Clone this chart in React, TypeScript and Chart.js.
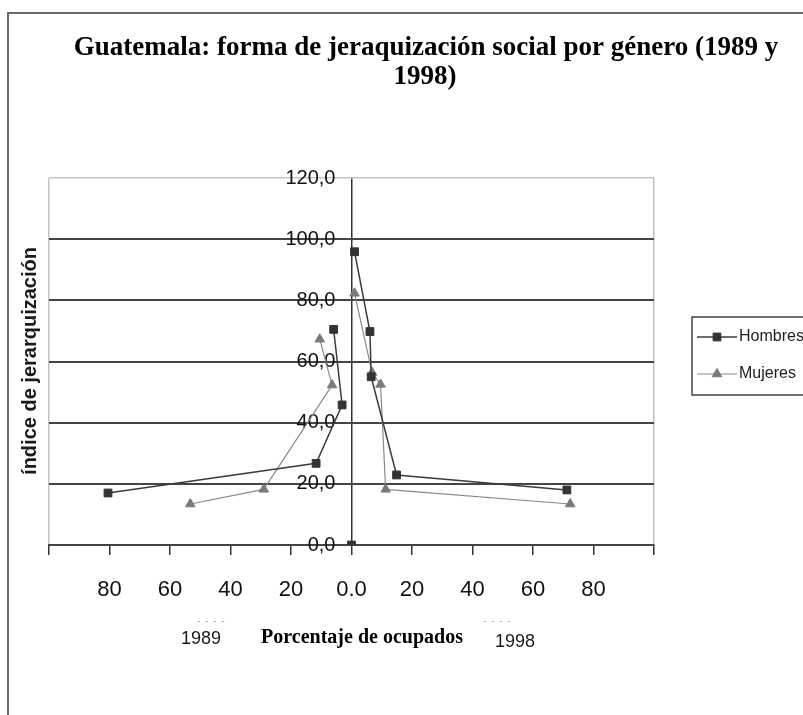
import React, { useEffect, useRef } from 'react';
import { Chart, registerables } from 'chart.js';
import { drawPoint } from 'chart.js/helpers';

Chart.register(...registerables);

// ---- text ----
const TITLE_LINES = ['Guatemala: forma de jeraquización social por género (1989 y', '1998)'];
const Y_TITLE = 'índice de jerarquización';
const X_TITLE = 'Porcentaje de ocupados';
const YEAR_LEFT = '1989';
const YEAR_RIGHT = '1998';
const SERIES_NAMES = ['Hombres', 'Mujeres'];

// ---- axes ----
const X_MIN = -100;
const X_MAX = 100;
const X_STEP = 20;
const Y_MIN = 0;
const Y_MAX = 120;
const Y_STEP = 20;
// the vertical axis crosses at x = 0; its labels sit just left of it
const Y_CROSS = 0;
const Y_LABEL_AT = -5.3;

// ---- data (percentage of employed, hierarchy index) ----
const hombres1989Pct = [80.5, 11.7, 3.1, 5.9];
const hombres1989Idx = [17.0, 26.7, 45.8, 70.5];
const hombresOriginPct = [0];
const hombresOriginIdx = [0];
const hombres1998Pct = [1.0, 6.1, 6.5, 14.9, 71.2];
const hombres1998Idx = [95.9, 69.8, 55.0, 22.9, 18.0];

const mujeres1989Pct = [53.3, 29.0, 6.4, 10.5];
const mujeres1989Idx = [13.4, 18.2, 52.3, 67.3];
const mujeres1998Pct = [1.0, 6.8, 9.6, 11.3, 72.3];
const mujeres1998Idx = [82.3, 56.4, 52.5, 18.2, 13.4];

type Pt = { x: number; y: number | null };

function buildSeries(
  p89: number[], i89: number[], p98: number[], i98: number[],
  pOrig: number[] = [], iOrig: number[] = []
): Pt[] {
  const pts: Pt[] = p89.map((p, k) => ({ x: -p, y: i89[k] }));
  pts.push({ x: 0, y: null });
  if (pOrig.length) {
    pOrig.forEach((p, k) => pts.push({ x: p, y: iOrig[k] }));
    pts.push({ x: 0, y: null });
  }
  p98.forEach((p, k) => pts.push({ x: p, y: i98[k] }));
  return pts;
}

const SANS = "'Liberation Sans', Arial, sans-serif";
const SERIF = "'Liberation Serif', 'Times New Roman', serif";

const decorPlugin = {
  id: 'decor',
  beforeDraw(chart: any) {
    const { ctx, width, height } = chart;
    ctx.save();
    ctx.fillStyle = '#ffffff';
    ctx.fillRect(0, 0, width, height);
    ctx.strokeStyle = '#6a6a6a';
    ctx.lineWidth = 2;
    ctx.beginPath();
    ctx.moveTo(8, height + 2);
    ctx.lineTo(8, 13);
    ctx.lineTo(width + 2, 13);
    ctx.stroke();
    ctx.restore();
  },
  afterDraw(chart: any) {
    const { ctx } = chart;
    ctx.save();
    // title
    ctx.fillStyle = '#000';
    ctx.font = `bold 27px ${SERIF}`;
    ctx.textAlign = 'center';
    ctx.textBaseline = 'middle';
    ctx.fillText(TITLE_LINES[0], 426, 48);
    ctx.fillText(TITLE_LINES[1], 425, 77);

    // y title
    ctx.save();
    ctx.translate(30, 361);
    ctx.rotate(-Math.PI / 2);
    ctx.font = `bold 20px ${SANS}`;
    ctx.fillStyle = '#1a1a1a';
    ctx.fillText(Y_TITLE, 0, 0);
    ctx.restore();

    // x title + years
    ctx.font = `bold 20px ${SERIF}`;
    ctx.fillStyle = '#000';
    ctx.fillText(X_TITLE, 362, 638);
    ctx.font = `18px ${SANS}`;
    ctx.fillStyle = '#1a1a1a';
    ctx.fillText(YEAR_LEFT, 201, 639);
    ctx.fillText(YEAR_RIGHT, 515, 642);
    ctx.font = `9px ${SANS}`;
    ctx.fillStyle = '#888';
    ctx.fillText('-  -  -  -', 211, 622);
    ctx.fillText('-  -  -  -', 497, 622);

    // legend
    ctx.strokeStyle = '#444';
    ctx.lineWidth = 1.5;
    ctx.strokeRect(692, 317, 120, 78);
    const rows = [337, 374];
    chart.data.datasets.forEach((ds: any, i: number) => {
      const y = rows[i];
      ctx.strokeStyle = ds.borderColor;
      ctx.lineWidth = ds.borderWidth;
      ctx.beginPath();
      ctx.moveTo(697, y);
      ctx.lineTo(737, y);
      ctx.stroke();
      ctx.fillStyle = ds.pointBackgroundColor;
      ctx.strokeStyle = ds.pointBorderColor;
      ctx.lineWidth = 1;
      drawPoint(ctx, { pointStyle: ds.pointStyle, radius: ds.pointRadius, rotation: 0, borderWidth: 1 }, 717, y);
      ctx.fillStyle = '#222';
      ctx.font = `16px ${SANS}`;
      ctx.textAlign = 'left';
      ctx.textBaseline = 'middle';
      ctx.fillText(ds.label, 739, y);
    });
    ctx.restore();
  },
};

export default function App() {
  const ref = useRef<HTMLCanvasElement>(null);

  useEffect(() => {
    if (!ref.current) return;
    const chart = new Chart(ref.current, {
      type: 'line',
      data: {
        datasets: [
          {
            label: SERIES_NAMES[0],
            data: buildSeries(hombres1989Pct, hombres1989Idx, hombres1998Pct, hombres1998Idx, hombresOriginPct, hombresOriginIdx),
            borderColor: '#3c3c3c',
            borderWidth: 1.5,
            pointStyle: 'rect',
            pointRadius: 5.5,
            pointBackgroundColor: '#333333',
            pointBorderColor: '#333333',
            pointBorderWidth: 1,
            tension: 0,
            spanGaps: false,
          },
          {
            label: SERIES_NAMES[1],
            data: buildSeries(mujeres1989Pct, mujeres1989Idx, mujeres1998Pct, mujeres1998Idx),
            borderColor: '#8a8a8a',
            borderWidth: 1.2,
            pointStyle: 'triangle',
            pointRadius: 5.5,
            pointBackgroundColor: '#7a7a7a',
            pointBorderColor: '#7a7a7a',
            pointBorderWidth: 1,
            tension: 0,
            spanGaps: false,
          },
        ] as any,
      },
      options: {
        animation: false,
        responsive: false,
        devicePixelRatio: 1,
        layout: { padding: { left: 49, right: 149, top: 178, bottom: 110 } },
        plugins: {
          legend: { display: false },
          title: { display: false },
          tooltip: { enabled: false },
        },
        scales: {
          x: {
            type: 'linear',
            min: X_MIN,
            max: X_MAX,
            afterFit: (scale: any) => {
              scale.height = 60;
              scale.paddingLeft = 0;
              scale.paddingRight = 0;
            },
            ticks: {
              stepSize: X_STEP,
              autoSkip: false,
              maxRotation: 0,
              padding: 22,
              color: '#111',
              font: { family: SANS, size: 22 },
              callback: (v: any) => {
                const n = Number(v);
                if (n === 0) return '0.0';
                if (Math.abs(n) === X_MAX) return '';
                return String(Math.abs(n));
              },
            },
            grid: {
              drawOnChartArea: true,
              drawTicks: true,
              tickLength: 10,
              tickColor: '#333',
              tickWidth: 1.5,
              lineWidth: 1.5,
              color: (c: any) => {
                const v = c.tick ? c.tick.value : null;
                if (v === Y_CROSS) return '#333';
                if (v !== null && Math.abs(v) === X_MAX) return '#c4c4c4';
                return 'rgba(0,0,0,0)';
              },
            },
            border: { display: true, color: '#444', width: 2 },
          },
          y: {
            type: 'linear',
            position: { x: Y_LABEL_AT } as any,
            min: Y_MIN,
            max: Y_MAX,
            ticks: {
              stepSize: Y_STEP,
              padding: 0,
              color: '#111',
              font: { family: SANS, size: 20 },
              callback: (v: any) => Number(v).toFixed(1).replace('.', ','),
            },
            grid: {
              drawTicks: false,
              lineWidth: (c: any) => (c.tick && c.tick.value === Y_MAX ? 1.5 : 2),
              color: (c: any) => {
                const v = c.tick ? c.tick.value : 0;
                if (v === Y_MIN) return 'rgba(0,0,0,0)';
                if (v === Y_MAX) return '#c4c4c4';
                return '#454545';
              },
            },
            border: { display: false },
          },
        },
      },
      plugins: [decorPlugin],
    });
    return () => chart.destroy();
  }, []);

  return (
    <div style={{ position: 'absolute', left: 0, top: 0, width: 803, height: 715, background: '#fff' }}>
      <canvas ref={ref} width={803} height={715} style={{ display: 'block', width: 803, height: 715 }} />
    </div>
  );
}
